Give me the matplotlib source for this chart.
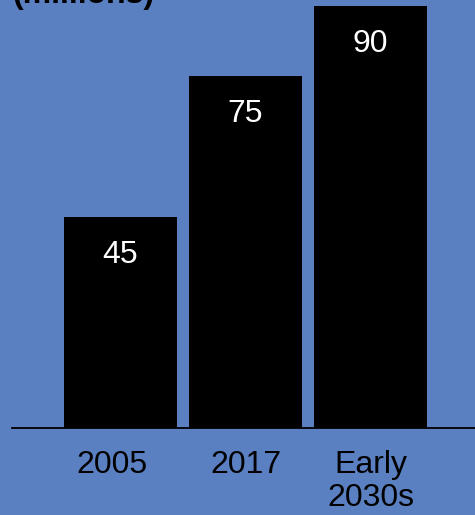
import matplotlib
matplotlib.use('Agg')
import matplotlib.pyplot as plt
from matplotlib.transforms import ScaledTranslation

categories = ['2005', '2017', 'Early\n2030s']
values = [45, 75, 90]
unit_label = '(millions)'

bg = '#5b80c1'
plt.rcParams['font.family'] = ['Liberation Sans', 'DejaVu Sans']

fig = plt.figure(figsize=(4.75, 5.15), dpi=100, facecolor=bg)
# axes placed in pixel terms: left edge 12px, baseline at 428px from top
ax = fig.add_axes([12 / 475, (515 - 428) / 515, 1 - 12 / 475, 428 / 515])
ax.set_facecolor(bg)

x = list(range(len(values)))
bars = ax.bar(x, values, width=0.9, color='black')
ax.set_xlim(-0.868, 2.836)
ax.set_ylim(0, 91.26)

for b, v in zip(bars, values):
    ax.annotate(str(v), (b.get_x() + b.get_width() / 2, v),
                xytext=(0, -27.5), textcoords='offset points',
                ha='center', va='center', color='white', fontsize=23)

ax.set_xticks(x)
ax.set_xticklabels(categories, fontsize=23, linespacing=1.1)
ax.tick_params(axis='x', length=0, pad=16)
ax.set_yticks([])
for side in ['top', 'right', 'left']:
    ax.spines[side].set_visible(False)
ax.spines['bottom'].set_linewidth(1.3)

# first label sits a little left of its bar in the original
lbl = ax.get_xticklabels()[0]
lbl.set_transform(lbl.get_transform() + ScaledTranslation(-0.09, 0, fig.dpi_scale_trans))

fig.text(12 / 475, 1 - 10 / 515, unit_label, ha='left', va='bottom',
         fontsize=23, fontweight='bold')

fig.savefig('out.png', dpi=100, facecolor=bg)
